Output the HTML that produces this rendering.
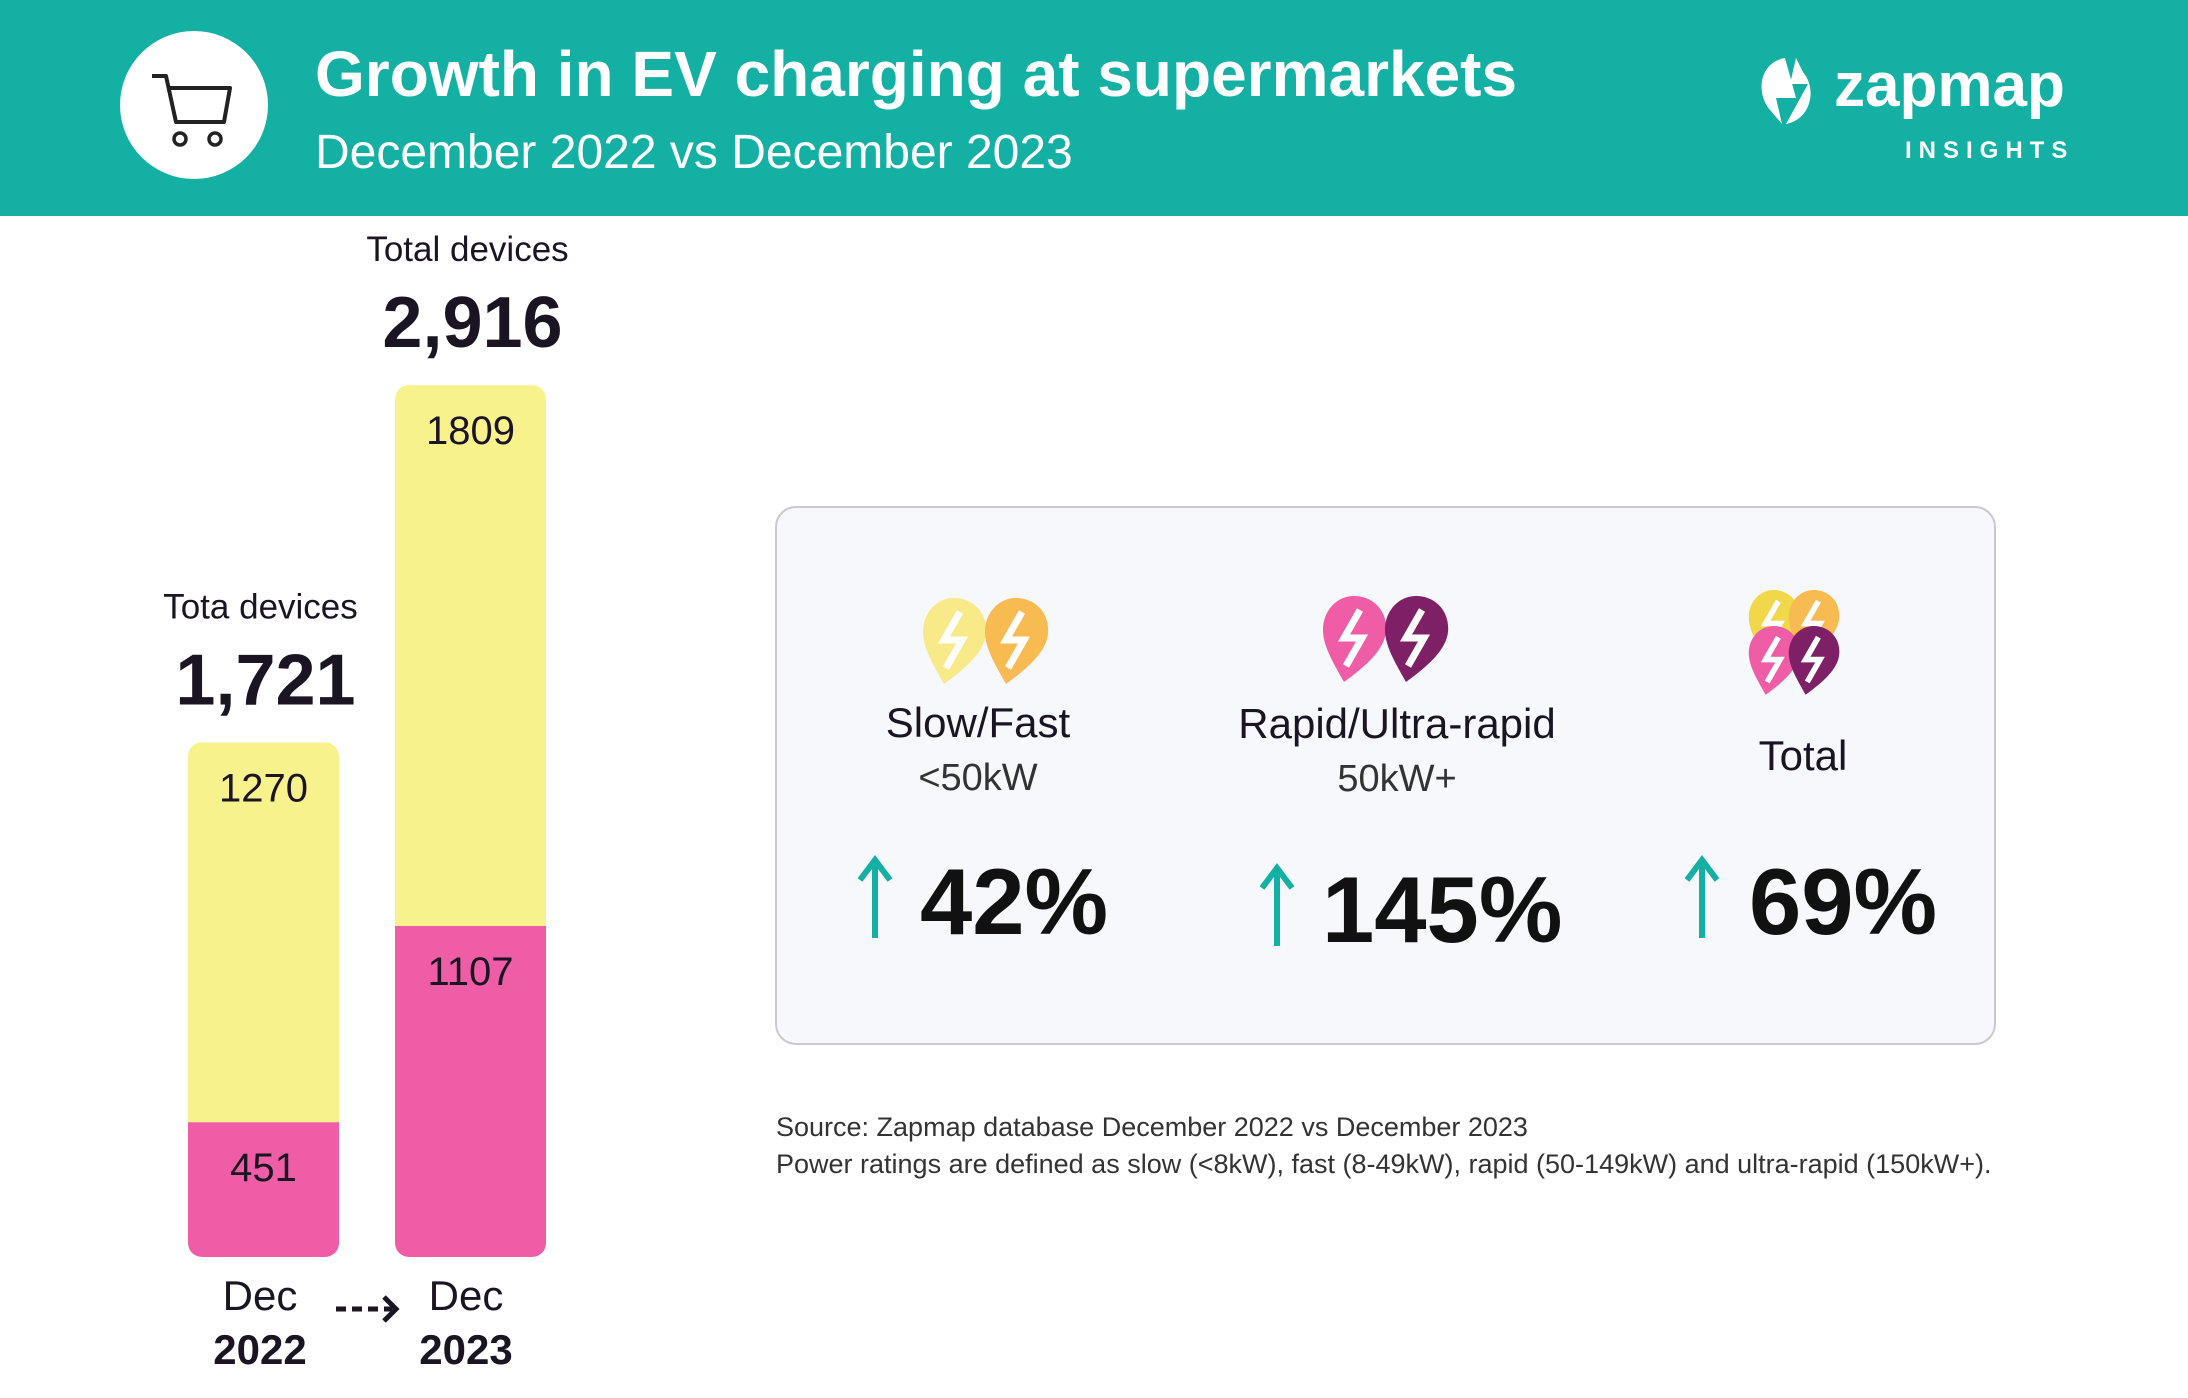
<!DOCTYPE html>
<html><head><meta charset="utf-8">
<style>
html,body{margin:0;padding:0;background:#fff;}
svg{display:block;font-family:"Liberation Sans",sans-serif;}
</style></head>
<body>
<svg id="chart" width="2188" height="1398" viewBox="0 0 2188 1398" xmlns="http://www.w3.org/2000/svg">
<defs>
<g id="pin"><path d="M32,0 C52,0 66,16 64,36 C62,54 44,70 22,86 C12,68 2,52 1,36 C0,16 14,0 32,0 Z"/><path d="M38,14 L22,42 L40,42 L24,70" fill="none" stroke="#fff" stroke-width="7" stroke-linejoin="miter"/></g>
</defs>
<rect x="0" y="0" width="2188" height="216" fill="#14b0a4"/>
<g>
<circle cx="194" cy="105" r="74" fill="#fff"/>
<path d="M152,76 L166,76 L176,122 L224,122 L230,88 L170,88" fill="none" stroke="#222" stroke-width="4" stroke-linejoin="round"/>
<circle cx="180" cy="139" r="6" fill="none" stroke="#222" stroke-width="3.5"/>
<circle cx="215" cy="139" r="6" fill="none" stroke="#222" stroke-width="3.5"/>
</g>
<text x="315" y="96" font-size="64" font-weight="bold" fill="#fff">Growth in EV charging at supermarkets</text>
<text x="315" y="168" font-size="48" fill="#fff">December 2022 vs December 2023</text>
<g fill="#fff">
<path d="M1785,58 C1760,62 1755,92 1770,110 L1782,124 L1776,98 L1796,98 Z M1796,58 L1790,84 L1808,84 L1786,124 C1810,120 1818,90 1803,72 Z"/>
<text x="1834" y="106" font-size="62" font-weight="bold">zapmap</text>
<text x="1905" y="158" font-size="24" font-weight="bold" letter-spacing="7">INSIGHTS</text>
</g>
<g id="bars"></g>
<g fill="#1a1423" text-anchor="middle" font-size="42">
<text x="260" y="1310">Dec</text>
<text x="260" y="1364" font-weight="bold">2022</text>
<text x="466" y="1310">Dec</text>
<text x="466" y="1364" font-weight="bold">2023</text>
<path d="M336,1309 L392,1309" stroke="#1a1423" stroke-width="5" stroke-dasharray="10,6"/>
<path d="M384,1297 L396,1309 L384,1321" fill="none" stroke="#1a1423" stroke-width="5"/>
</g>
<rect x="776" y="507" width="1219" height="537" rx="20" fill="#f6f8fb" stroke="#c9c9cf" stroke-width="2"/>
<g>
<use href="#pin" x="922" y="598" fill="#f8ea88"/><use href="#pin" x="984" y="598" fill="#f8bb52"/>
</g>
<g>
<use href="#pin" x="1322" y="596" fill="#ee5da6"/><use href="#pin" x="1384" y="596" fill="#7d2066"/>
</g>
<g transform="translate(1748,590) scale(0.8)">
<use href="#pin" x="0" y="0" fill="#f1d84a"/><use href="#pin" x="50" y="0" fill="#f8bb52"/>
<use href="#pin" x="0" y="45" fill="#ee5da6"/><use href="#pin" x="50" y="45" fill="#7d2066"/>
</g>
<g fill="#1a1423" text-anchor="middle">
<text x="978" y="737" font-size="42">Slow/Fast</text>
<text x="978" y="790" font-size="38" fill="#333">&lt;50kW</text>
<text x="1397" y="738" font-size="42">Rapid/Ultra-rapid</text>
<text x="1397" y="791" font-size="38" fill="#333">50kW+</text>
<text x="1803" y="770" font-size="42">Total</text>
</g>
<g fill="#111" font-size="94" font-weight="bold">
<text x="920" y="934">42%</text>
<text x="1322" y="942">145%</text>
<text x="1749" y="934">69%</text>
</g>
<g stroke="#14b0a4" stroke-width="6" fill="none">
<path d="M875,938 L875,862 M860,880 L875,860 L890,880"/>
<path d="M1277,946 L1277,870 M1262,888 L1277,868 L1292,888"/>
<path d="M1702,938 L1702,862 M1687,880 L1702,860 L1717,880"/>
</g>
<g fill="#333" font-size="27">
<text x="776" y="1136">Source: Zapmap database December 2022 vs December 2023</text>
<text x="776" y="1173">Power ratings are defined as slow (&lt;8kW), fast (8-49kW), rapid (50-149kW) and ultra-rapid (150kW+).</text>
</g>
</svg>
<script>
const categories = ["Dec 2022", "Dec 2023"];
const slowFast = [1270, 1809];
const rapid = [451, 1107];
const totals = ["1,721", "2,916"];
const totalCaptions = ["Tota devices", "Total devices"];

const NS = "http://www.w3.org/2000/svg";
const baseY = 1257, scale = 0.299;
const barX = [188, 395], barW = 151;
function y(v){ return baseY - v*scale; }
const g = document.getElementById('bars');
function mk(tag, attrs){ const e=document.createElementNS(NS,tag); for(const k in attrs) e.setAttribute(k,attrs[k]); g.appendChild(e); return e; }
categories.forEach((c,i)=>{
  const x = barX[i], cx = x + barW/2;
  const tot = slowFast[i] + rapid[i];
  const clipId = 'clip'+i;
  const cp = document.createElementNS(NS,'clipPath'); cp.setAttribute('id',clipId);
  const cr = document.createElementNS(NS,'rect');
  cr.setAttribute('x',x); cr.setAttribute('y',y(tot)); cr.setAttribute('width',barW); cr.setAttribute('height',tot*scale); cr.setAttribute('rx',14);
  cp.appendChild(cr); g.appendChild(cp);
  const r1 = mk('rect',{x:x,y:y(rapid[i]),width:barW,height:rapid[i]*scale,fill:'#ee5da6','clip-path':'url(#'+clipId+')'});
  
  
  const r2 = mk('rect',{x:x,y:y(tot),width:barW,height:slowFast[i]*scale,fill:'#f7f28c','clip-path':'url(#'+clipId+')'});
  
  
  const t1 = mk('text',{x:cx,y:y(tot)+59,'text-anchor':'middle','font-size':40,fill:'#1a1423'}); t1.textContent = slowFast[i];
  
  
  const t2 = mk('text',{x:cx,y:y(rapid[i])+59,'text-anchor':'middle','font-size':40,fill:'#1a1423'}); t2.textContent = rapid[i];
  
  
  const t3 = mk('text',{x:cx-3,y:y(tot)-124,'text-anchor':'middle','font-size':35,fill:'#1a1423'}); t3.textContent = totalCaptions[i];
  
  
  const t4 = mk('text',{x:cx+2,y:y(tot)-38,'text-anchor':'middle','font-size':72,'font-weight':'bold',fill:'#1a1423'}); t4.textContent = totals[i];
  
  
});
</script>
</body></html>
